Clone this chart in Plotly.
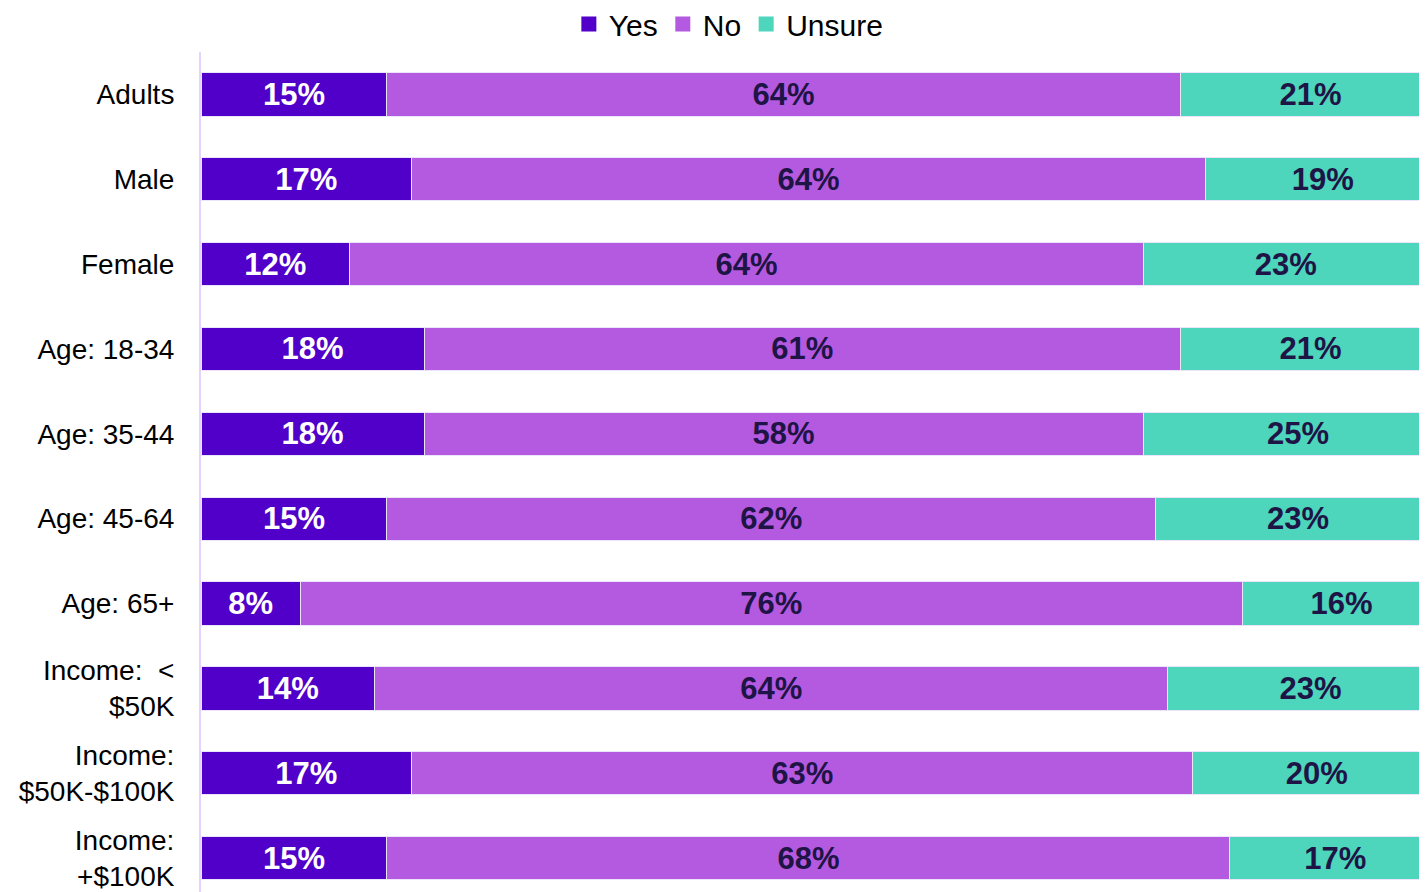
import plotly.graph_objects as go

groups = ["Adults", "Male", "Female", "Age: 18-34", "Age: 35-44", "Age: 45-64",
          "Age: 65+", "Income:  &lt;<br>$50K", "Income:<br>$50K-$100K", "Income:<br>+$100K"]
yes = [15, 17, 12, 18, 18, 15, 8, 14, 17, 15]
no = [64, 64, 64, 61, 58, 62, 76, 64, 63, 68]
unsure = [21, 19, 23, 21, 25, 23, 16, 23, 20, 17]

series = [
    ("Yes", yes, "#5000c8", "white"),
    ("No", no, "#b45ae0", "#1e1446"),
    ("Unsure", unsure, "#4dd6bc", "#1e1446"),
]

fig = go.Figure()
for name, vals, color, txtcolor in series:
    fig.add_trace(go.Bar(
        name=name,
        y=groups,
        x=vals,
        orientation="h",
        marker=dict(color=color, line=dict(color="#ece4fa", width=1)),
        texttemplate="%{x}%",
        textposition="inside",
        insidetextanchor="middle",
        textangle=0,
        constraintext="none",
        showlegend=False,
        textfont=dict(family="Liberation Sans, Arial", size=31, color=txtcolor, weight="bold"),
    ))
    # legend entry with a bigger square swatch
    fig.add_trace(go.Scatter(
        name=name, x=[None], y=[None], mode="markers",
        marker=dict(symbol="square", size=15, color=color),
    ))

fig.update_layout(
    barmode="stack",
    bargap=0.49,
    width=1419,
    height=884,
    margin=dict(t=44, b=0, l=193, r=0, autoexpand=False),
    paper_bgcolor="white",
    plot_bgcolor="white",
    font=dict(family="Liberation Sans, Arial", color="black"),
    uniformtext=dict(minsize=31, mode="show"),
    legend=dict(
        orientation="h", xref="container", yref="container",
        x=0.508, xanchor="center", y=0.982, yanchor="middle",
        font=dict(size=30), traceorder="normal", itemwidth=30,
    ),
    xaxis=dict(range=[0, 98.9], showgrid=False, zeroline=False,
               showticklabels=False, automargin=False),
    yaxis=dict(
        categoryorder="array", categoryarray=groups, range=[9.4, -0.5],
        showline=True, linecolor="#e2d4ff", linewidth=2, automargin=False,
        ticks="outside", ticklen=19, tickcolor="rgba(0,0,0,0)",
        tickfont=dict(size=28, color="black"), showgrid=False,
    ),
)

fig.write_html("out.html")
